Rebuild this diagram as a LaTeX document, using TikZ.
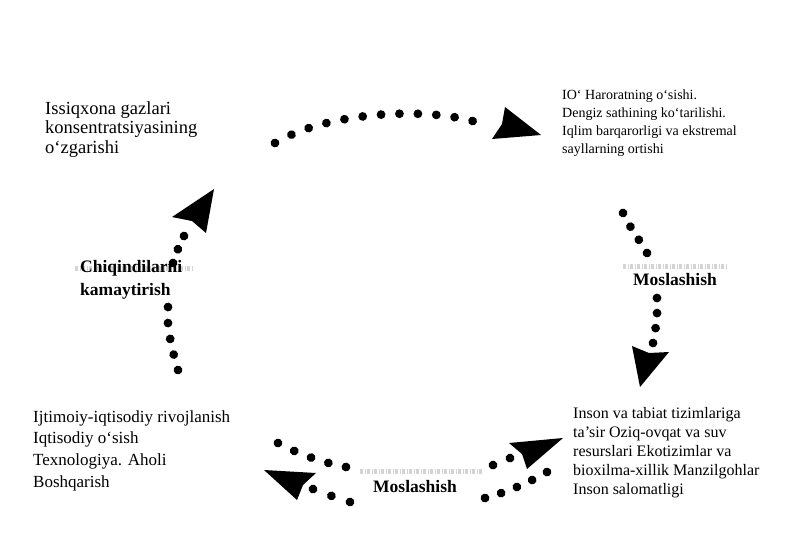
\documentclass[tikz,border=0pt]{standalone}
\usepackage{fontspec}
\setmainfont{Liberation Serif}
\usetikzlibrary{decorations.markings}
\tikzset{
  txt/.style={anchor=north west, inner sep=0pt, align=left},
  lbl/.style={anchor=north west, inner sep=0pt, align=left, font=\bfseries\fontsize{17.5}{23}\selectfont},
  dotarc/.style={decoration={markings, mark=between positions 0 and 1 step #1 with {\fill[black] (0,0) circle (4.4pt);}}, postaction={decorate}},
  headfill/.style={fill=black},
  smudge/.style={black!17, line width=5pt, dash pattern=on 3pt off 1.5pt on 1.5pt off 1pt},
}
\begin{document}
\begin{tikzpicture}[x=1pt,y=-1pt]
\useasboundingbox[fill=white] (0,0) rectangle (810,539);

% smudges behind labels
\coordinate (sl1) at (75,268); \coordinate (sl2) at (192,268);
\coordinate (sr1) at (623,266); \coordinate (sr2) at (728,266);
\coordinate (sb1) at (360,471); \coordinate (sb2) at (483,471);
\draw[smudge] (sl1) -- (sl2);
\draw[smudge] (sr1) -- (sr2);
\draw[smudge] (sb1) -- (sb2);

% texts
\node[txt, font=\fontsize{18.5}{19.8}\selectfont] (tl) at (45,101)
  {Issiqxona gazlari\\konsentratsiyasining\\o‘zgarishi};
\node[txt, font=\fontsize{14}{17.7}\selectfont] (tr) at (562,90)
  {IO‘ Haroratning o‘sishi.\\Dengiz sathining ko‘tarilishi.\\Iqlim barqarorligi va ekstremal\\sayllarning ortishi};
\node[txt, font=\fontsize{16}{19}\selectfont] (br) at (573,407)
  {Inson va tabiat tizimlariga\\ta’sir Oziq-ovqat va suv\\resurslari Ekotizimlar va\\bioxilma-xillik Manzilgohlar\\Inson salomatligi};
\node[txt, font=\fontsize{17}{21.7}\selectfont] (bl) at (33,410)
  {Ijtimoiy-iqtisodiy rivojlanish\\Iqtisodiy o‘sish\\Texnologiya. Aholi\\Boshqarish};

% labels
\node[lbl] (lblL) at (80,260) {Chiqindilarni\\kamaytirish};
\node[lbl] (lblR) at (633,273) {Moslashish};
\node[lbl] (lblB) at (373,480) {Moslashish};

% top arc
\coordinate (t0) at (275,143); \coordinate (t1) at (490,127);
\path[dotarc=0.08333] (t0) .. controls (330,110) and (440,105) .. (t1);
\coordinate (th1) at (505,107); \coordinate (th2) at (541,135);
\coordinate (th3) at (492,139); \coordinate (th4) at (502,124);
\fill[headfill] (th1) -- (th2) -- (th3) -- (th4) -- cycle;

% right arc
\coordinate (r0) at (623,213); \coordinate (r1) at (647,253);
\coordinate (r2) at (657,298); \coordinate (r3) at (653,343);
\path[dotarc=0.3333] (r0) .. controls (630,228) and (641,242) .. (r1);
\path[dotarc=0.3333] (r2) .. controls (658,313) and (656,328) .. (r3);
\coordinate (rh1) at (632,346); \coordinate (rh2) at (649,353);
\coordinate (rh3) at (669,352); \coordinate (rh4) at (640,387);
\fill[headfill] (rh1) -- (rh2) -- (rh3) -- (rh4) -- cycle;

% left arc
\coordinate (l0) at (178,370); \coordinate (l1) at (168,307);
\coordinate (l2) at (173,263); \coordinate (l3) at (184,236);
\path[dotarc=0.2499] (l0) .. controls (172,350) and (166,325) .. (l1);
\path[dotarc=0.4999] (l2) .. controls (176,255) and (179,244) .. (l3);
\coordinate (lh1) at (172,217); \coordinate (lh2) at (214,189);
\coordinate (lh3) at (206,233); \coordinate (lh4) at (192,221);
\fill[headfill] (lh1) -- (lh2) -- (lh3) -- (lh4) -- cycle;

% bottom arcs
\coordinate (b10) at (278,443); \coordinate (b11) at (346,467);
\path[dotarc=0.2499] (b10) .. controls (300,455) and (325,463) .. (b11);
\coordinate (b20) at (350,502); \coordinate (b21) at (313,489);
\path[dotarc=0.4999] (b20) .. controls (338,498) and (325,494) .. (b21);
\coordinate (bh1) at (264,470); \coordinate (bh2) at (316,473);
\coordinate (bh3) at (303,485); \coordinate (bh4) at (297,500);
\fill[headfill] (bh1) -- (bh2) -- (bh3) -- (bh4) -- cycle;

\coordinate (b30) at (493,465); \coordinate (b31) at (510,458);
\path[dotarc=0.9999] (b30) -- (b31);
\coordinate (b40) at (485,498); \coordinate (b41) at (547,472);
\path[dotarc=0.2499] (b40) .. controls (505,493) and (530,482) .. (b41);
\coordinate (ch1) at (509,443); \coordinate (ch2) at (563,438);
\coordinate (ch3) at (527,469); \coordinate (ch4) at (522,454);
\fill[headfill] (ch1) -- (ch2) -- (ch3) -- (ch4) -- cycle;
\end{tikzpicture}
\end{document}
